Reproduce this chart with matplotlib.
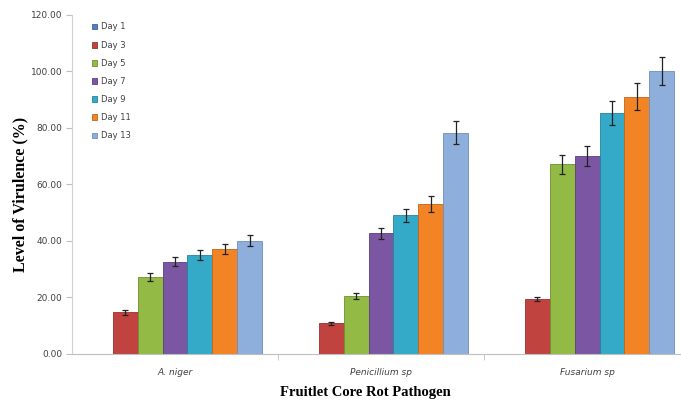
import numpy as np
import matplotlib
matplotlib.use('Agg')
import matplotlib.pyplot as plt

# Data
pathogens = ['A. niger', 'Penicillium sp', 'Fusarium sp']
days = ['Day 1', 'Day 3', 'Day 5', 'Day 7', 'Day 9', 'Day 11', 'Day 13']

day1 = [0.0, 0.0, 0.0]
day3 = [14.8, 10.9, 19.4]
day5 = [27.4, 20.6, 67.1]
day7 = [32.7, 42.7, 70.1]
day9 = [35.0, 49.2, 85.2]
day11 = [37.2, 53.0, 91.1]
day13 = [40.1, 78.3, 100.2]

err1 = [0.0, 0.0, 0.0]
err3 = [0.9, 0.5, 0.8]
err5 = [1.4, 1.1, 3.4]
err7 = [1.7, 2.0, 3.7]
err9 = [1.7, 2.3, 4.3]
err11 = [1.8, 2.9, 4.7]
err13 = [2.0, 4.0, 5.1]

values = [day1, day3, day5, day7, day9, day11, day13]
errors = [err1, err3, err5, err7, err9, err11, err13]
colors = ['#4F81BD', '#C0433F', '#92BA44', '#7B57A3', '#34A9C8', '#F38425', '#8EAEDB']
edges = ['#3A6496', '#9A302D', '#6E8F30', '#5D3F80', '#26839C', '#C0651A', '#6E8EBB']

fig = plt.figure(figsize=(6.81, 4.03), dpi=100)
ax = fig.add_axes([0.1057, 0.1216, 0.8943, 0.8412])

x = np.arange(len(pathogens))
w = 0.121
for i, (vals, errs) in enumerate(zip(values, errors)):
    pos = x + (i - 3) * w
    ax.bar(pos, vals, width=w, color=colors[i], edgecolor=edges[i], linewidth=0.6,
           label=days[i], zorder=2)
    if i > 0:
        ax.errorbar(pos, vals, yerr=errs, fmt='none', ecolor='#222222',
                    elinewidth=0.9, capsize=2, capthick=0.9, zorder=3)

ax.set_xlim(-0.5, 2.456)
ax.set_ylim(0, 120)
ax.set_yticks(np.arange(0, 121, 20))
ax.set_yticklabels(['%.2f' % v for v in np.arange(0, 121, 20)], fontsize=6.5, color='#404040')

ax.set_xticks(x)
ax.set_xticklabels(pathogens, fontsize=6.5, style='italic', color='#404040')
ax.set_xticks([0.5, 1.5], minor=True)
ax.tick_params(axis='x', which='major', length=0, pad=10)
ax.tick_params(axis='x', which='minor', length=4, color='#BFBFBF')
ax.tick_params(axis='y', length=4, color='#BFBFBF', pad=3)

for s in ['top', 'right']:
    ax.spines[s].set_visible(False)
ax.spines['left'].set_color('#D0D0D0')
ax.spines['bottom'].set_color('#BFBFBF')

ax.set_ylabel('Level of Virulence (%)', family='Liberation Serif', fontweight='bold',
              fontsize=11.5)
ax.yaxis.set_label_coords(-0.072, 0.47)
fig.text(0.536, 0.025, 'Fruitlet Core Rot Pathogen', family='Liberation Serif',
         fontweight='bold', fontsize=10.5, ha='center', va='center')

leg = ax.legend(loc='upper left', bbox_to_anchor=(0.02, 1.0), frameon=False, fontsize=6,
                handlelength=0.7, handleheight=0.7, labelspacing=1.1, handletextpad=0.4)
for t in leg.get_texts():
    t.set_color('#404040')

fig.savefig('out.png', dpi=100)
